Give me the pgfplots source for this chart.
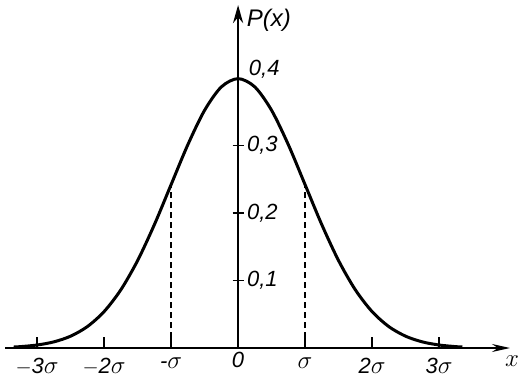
\documentclass[border=0pt]{standalone}
\usepackage{fontspec}
\setmainfont{Liberation Sans}
\usepackage{pgfplots}
\pgfplotsset{compat=1.18}
\usetikzlibrary{arrows.meta}
\newcommand{\sg}{{\fontsize{27}{28}\selectfont$\sigma$}}
\begin{document}
\begin{tikzpicture}
\begin{axis}[
  at={(5pt,30pt)}, anchor=south west,
  scale only axis, width=505pt, height=343pt,
  xmin=-3.48, xmax=4.06, ymin=0, ymax=0.508,
  axis lines=middle,
  clip=false,
  x axis line style={line width=1.8pt, -{Stealth[length=18pt,width=8pt]}},
  y axis line style={line width=2.8pt, -{Stealth[length=18pt,width=10pt]}},
  xtick={-3,-2,-1,1,2,3},
  xticklabels={$-$3\sg,$-$2\sg,-\sg,\sg,2\sg,3\sg},
  ytick={0.1,0.2,0.3},
  yticklabels={{0,1},{0,2},{0,3}},
  tick align=center,
  major tick length=11pt,
  tick style={line width=1.4pt, black},
  xtick style={yshift=5.5pt},
  tick label style={font=\fontsize{22}{24}\selectfont\itshape},
  xticklabel style={anchor=north, yshift=-1pt},
  yticklabel style={anchor=west, xshift=11pt},
]
\addplot[line width=3pt, smooth] coordinates {
(-3.35,0.00146) (-3.25,0.00203) (-3.0,0.00443) (-2.75,0.00909) (-2.5,0.01753)
(-2.25,0.03174) (-2.0,0.05399) (-1.75,0.08628) (-1.5,0.12952) (-1.25,0.18265)
(-1.0,0.24197) (-0.75,0.30114) (-0.5,0.35207) (-0.25,0.38667) (0,0.39894)
(0.25,0.38667) (0.5,0.35207) (0.75,0.30114) (1.0,0.24197) (1.25,0.18265)
(1.5,0.12952) (1.75,0.08628) (2.0,0.05399) (2.25,0.03174) (2.5,0.01753)
(2.75,0.00909) (3.0,0.00443) (3.25,0.00203) (3.35,0.00146)
};
\addplot[line width=1.8pt, dash pattern=on 6pt off 4pt] coordinates {(-1,0) (-1,0.24197)};
\addplot[line width=1.8pt, dash pattern=on 6pt off 4pt] coordinates {(1,0) (1,0.24197)};
\node[anchor=north, yshift=-1pt, font=\fontsize{22}{24}\selectfont\itshape] at (axis cs:0,0) {0};
\node[anchor=west, font=\fontsize{24}{26}\selectfont\itshape] at (axis cs:0.08,0.486) {P(x)};
\node[anchor=west, font=\fontsize{22}{24}\selectfont\itshape] at (axis cs:0.11,0.413) {0,4};
\node[font=\fontsize{24}{26}\selectfont] at (axis cs:4.09,-0.02) {$x$};
\end{axis}
\pgfresetboundingbox
\path[use as bounding box] (0,0) rectangle (522pt,378pt);
\end{tikzpicture}
\end{document}
